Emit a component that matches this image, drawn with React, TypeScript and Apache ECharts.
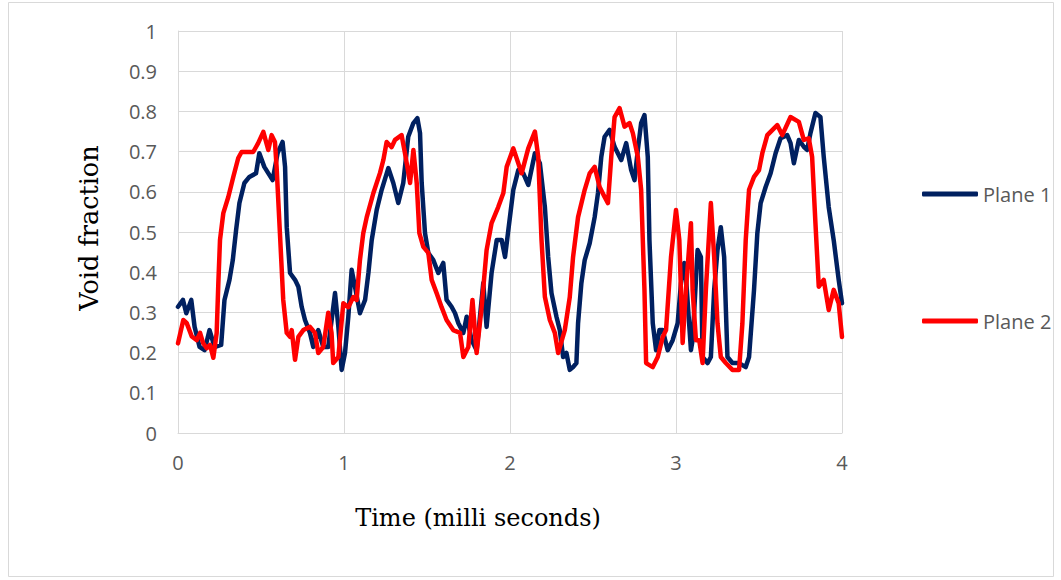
import React, { useEffect, useRef } from "react";
import * as echarts from "echarts";

const xTicks = [0, 1, 2, 3, 4];
const yTicks = [0, 0.1, 0.2, 0.3, 0.4, 0.5, 0.6, 0.7, 0.8, 0.9, 1];
const seriesNames = ["Plane 1", "Plane 2"];
const xTitle = "Time (milli seconds)";
const yTitle = "Void fraction";

// [time (ms), void fraction]
const plane1: number[][] = [
  [0, 0.314], [0.03, 0.331], [0.05, 0.298], [0.08, 0.331], [0.1, 0.264], [0.13, 0.214], [0.16, 0.206],
  [0.19, 0.256], [0.22, 0.214], [0.26, 0.219], [0.28, 0.331], [0.31, 0.381], [0.33, 0.43], [0.35, 0.505],
  [0.37, 0.572], [0.4, 0.622], [0.43, 0.637], [0.47, 0.646], [0.49, 0.696], [0.52, 0.662], [0.57, 0.629],
  [0.6, 0.696], [0.63, 0.724], [0.645, 0.662], [0.655, 0.512], [0.675, 0.398], [0.705, 0.381], [0.725, 0.364],
  [0.745, 0.314], [0.765, 0.281], [0.795, 0.249], [0.815, 0.214], [0.845, 0.256], [0.875, 0.214], [0.905, 0.214],
  [0.946, 0.348], [0.966, 0.264], [0.986, 0.157], [1.006, 0.199], [1.026, 0.289], [1.046, 0.406], [1.066, 0.364],
  [1.096, 0.298], [1.127, 0.331], [1.147, 0.398], [1.167, 0.48], [1.197, 0.555], [1.227, 0.605], [1.267, 0.659],
  [1.297, 0.622], [1.327, 0.572], [1.357, 0.622], [1.387, 0.737], [1.418, 0.771], [1.442, 0.783], [1.458, 0.746],
  [1.468, 0.622], [1.488, 0.497], [1.508, 0.448], [1.538, 0.43], [1.568, 0.398], [1.598, 0.423], [1.618, 0.331],
  [1.648, 0.314], [1.669, 0.298], [1.689, 0.273], [1.719, 0.249], [1.739, 0.289], [1.769, 0.231], [1.799, 0.206],
  [1.819, 0.289], [1.839, 0.373], [1.859, 0.264], [1.889, 0.398], [1.92, 0.48], [1.95, 0.48], [1.97, 0.438],
  [1.99, 0.505], [2.02, 0.605], [2.05, 0.654], [2.08, 0.646], [2.11, 0.617], [2.15, 0.696], [2.18, 0.671],
  [2.21, 0.563], [2.23, 0.438], [2.25, 0.348], [2.28, 0.289], [2.3, 0.256], [2.32, 0.189], [2.34, 0.199],
  [2.36, 0.157], [2.38, 0.164], [2.4, 0.174], [2.41, 0.273], [2.43, 0.373], [2.45, 0.43], [2.48, 0.472],
  [2.51, 0.537], [2.53, 0.597], [2.55, 0.687], [2.57, 0.737], [2.6, 0.754], [2.63, 0.712], [2.67, 0.679],
  [2.7, 0.721], [2.73, 0.654], [2.75, 0.629], [2.77, 0.704], [2.79, 0.771], [2.81, 0.791], [2.83, 0.687],
  [2.84, 0.48], [2.86, 0.273], [2.88, 0.206], [2.9, 0.256], [2.92, 0.256], [2.95, 0.206], [2.98, 0.231],
  [3.01, 0.273], [3.03, 0.373], [3.05, 0.423], [3.06, 0.389], [3.09, 0.206], [3.1, 0.231], [3.13, 0.455],
  [3.15, 0.438], [3.16, 0.189], [3.19, 0.174], [3.21, 0.189], [3.23, 0.356], [3.25, 0.455], [3.27, 0.512],
  [3.29, 0.438], [3.31, 0.189], [3.34, 0.174], [3.38, 0.174], [3.42, 0.164], [3.44, 0.189], [3.47, 0.356],
  [3.49, 0.497], [3.51, 0.572], [3.54, 0.612], [3.57, 0.646], [3.6, 0.696], [3.63, 0.733], [3.67, 0.741],
  [3.69, 0.721], [3.71, 0.671], [3.74, 0.729], [3.77, 0.712], [3.79, 0.704], [3.81, 0.746], [3.84, 0.796],
  [3.87, 0.786], [3.89, 0.687], [3.92, 0.562], [3.95, 0.48], [3.98, 0.381], [4.0, 0.323],
];

const plane2: number[][] = [
  [0, 0.223], [0.032, 0.281], [0.052, 0.274], [0.083, 0.24], [0.113, 0.231], [0.133, 0.249], [0.151, 0.224],
  [0.173, 0.211], [0.193, 0.219], [0.213, 0.187], [0.233, 0.249], [0.243, 0.373], [0.253, 0.48], [0.273, 0.547],
  [0.303, 0.587], [0.333, 0.637], [0.363, 0.684], [0.383, 0.699], [0.453, 0.699], [0.483, 0.721], [0.514, 0.749],
  [0.544, 0.704], [0.564, 0.741], [0.584, 0.724], [0.594, 0.662], [0.614, 0.497], [0.634, 0.331], [0.655, 0.249],
  [0.675, 0.239], [0.685, 0.256], [0.705, 0.182], [0.725, 0.239], [0.755, 0.256], [0.795, 0.264], [0.825, 0.249],
  [0.845, 0.199], [0.875, 0.214], [0.905, 0.299], [0.925, 0.249], [0.935, 0.174], [0.966, 0.189], [0.996, 0.323],
  [1.026, 0.313], [1.056, 0.338], [1.076, 0.331], [1.096, 0.43], [1.116, 0.497], [1.137, 0.537], [1.177, 0.597],
  [1.217, 0.647], [1.237, 0.679], [1.257, 0.724], [1.287, 0.711], [1.307, 0.729], [1.347, 0.741], [1.367, 0.697],
  [1.398, 0.622], [1.418, 0.704], [1.438, 0.622], [1.454, 0.497], [1.478, 0.463], [1.508, 0.448], [1.528, 0.381],
  [1.558, 0.348], [1.588, 0.313], [1.618, 0.281], [1.658, 0.256], [1.699, 0.249], [1.719, 0.189], [1.749, 0.214],
  [1.774, 0.331], [1.799, 0.199], [1.829, 0.313], [1.859, 0.455], [1.889, 0.522], [1.929, 0.562], [1.96, 0.597],
  [1.98, 0.662], [2.02, 0.708], [2.07, 0.646], [2.11, 0.708], [2.15, 0.75], [2.17, 0.687], [2.19, 0.48],
  [2.21, 0.339], [2.24, 0.281], [2.27, 0.249], [2.29, 0.199], [2.33, 0.256], [2.36, 0.338], [2.38, 0.438],
  [2.41, 0.537], [2.45, 0.605], [2.48, 0.646], [2.51, 0.662], [2.54, 0.612], [2.57, 0.587], [2.59, 0.572],
  [2.61, 0.687], [2.63, 0.786], [2.66, 0.808], [2.69, 0.762], [2.72, 0.771], [2.74, 0.746], [2.77, 0.687],
  [2.79, 0.605], [2.81, 0.356], [2.82, 0.174], [2.86, 0.164], [2.89, 0.189], [2.92, 0.239], [2.94, 0.256],
  [2.97, 0.438], [3.0, 0.555], [3.02, 0.48], [3.04, 0.224], [3.06, 0.356], [3.09, 0.522], [3.1, 0.356],
  [3.12, 0.231], [3.14, 0.231], [3.16, 0.174], [3.18, 0.356], [3.21, 0.572], [3.23, 0.438], [3.25, 0.273],
  [3.27, 0.189], [3.3, 0.174], [3.34, 0.157], [3.38, 0.157], [3.4, 0.273], [3.42, 0.48], [3.44, 0.605],
  [3.47, 0.637], [3.5, 0.654], [3.52, 0.696], [3.55, 0.741], [3.61, 0.766], [3.64, 0.741], [3.69, 0.786],
  [3.74, 0.774], [3.77, 0.729], [3.8, 0.733], [3.82, 0.687], [3.84, 0.522], [3.86, 0.364], [3.89, 0.381],
  [3.92, 0.306], [3.95, 0.356], [3.98, 0.323], [4.0, 0.239],
];

const colors = ["#002060", "#ff0000"];

export default function App() {
  const ref = useRef<HTMLDivElement>(null);
  useEffect(() => {
    if (!ref.current) return;
    const chart = echarts.init(ref.current, null, { renderer: "svg" });
    const labelFont = "'Open Sans', 'Noto Sans', sans-serif";
    const titleFont = "'DejaVu Serif', 'Liberation Serif', serif";
    chart.setOption({
      animation: false,
      backgroundColor: "#ffffff",
      grid: { left: 178, right: 219, top: 31, bottom: 147, containLabel: false },
      graphic: [
        {
          type: "rect",
          shape: { x: 8.5, y: 2.5, width: 1045, height: 574 },
          style: { fill: "none", stroke: "#d9d9d9", lineWidth: 1 },
          silent: true,
        },
        {
          type: "text",
          x: 478,
          y: 518,
          silent: true,
          style: {
            text: xTitle,
            fill: "#000000",
            fontSize: 24,
            fontFamily: titleFont,
            align: "center",
            verticalAlign: "middle",
            textAlign: "center",
            textVerticalAlign: "middle",
          },
        },
        {
          type: "text",
          x: 89,
          y: 228,
          rotation: Math.PI / 2,
          silent: true,
          style: {
            text: yTitle,
            fill: "#000000",
            fontSize: 25.5,
            fontFamily: titleFont,
            align: "center",
            verticalAlign: "middle",
            textAlign: "center",
            textVerticalAlign: "middle",
          },
        },
      ],
      legend: {
        orient: "vertical",
        left: 917,
        top: 179,
        itemGap: 107,
        itemWidth: 56,
        itemHeight: 5,
        icon: "roundRect",
        data: seriesNames,
        textStyle: { color: "#595959", fontSize: 20, fontFamily: labelFont },
      },
      xAxis: {
        type: "value",
        min: xTicks[0],
        max: xTicks[xTicks.length - 1],
        interval: 1,
        axisLine: { show: true, lineStyle: { color: "#d9d9d9", width: 1 } },
        axisTick: { show: false },
        splitLine: { show: true, lineStyle: { color: "#d9d9d9", width: 1 } },
        axisLabel: { color: "#595959", fontSize: 20, fontFamily: labelFont, margin: 19 },
      },
      yAxis: {
        type: "value",
        min: yTicks[0],
        max: yTicks[yTicks.length - 1],
        interval: 0.1,
        axisLine: { show: true, lineStyle: { color: "#d9d9d9", width: 1 } },
        axisTick: { show: false },
        splitLine: { show: true, lineStyle: { color: "#d9d9d9", width: 1 } },
        axisLabel: {
          color: "#595959",
          fontSize: 20,
          fontFamily: labelFont,
          margin: 21,
          formatter: (v: number) => String(Math.round(v * 10) / 10),
        },
      },
      series: [
        {
          name: seriesNames[0],
          type: "line",
          data: plane1,
          showSymbol: false,
          symbol: "none",
          lineStyle: { color: colors[0], width: 4.5, join: "round", cap: "round" },
          itemStyle: { color: colors[0] },
        },
        {
          name: seriesNames[1],
          type: "line",
          data: plane2,
          showSymbol: false,
          symbol: "none",
          lineStyle: { color: colors[1], width: 4.5, join: "round", cap: "round" },
          itemStyle: { color: colors[1] },
        },
      ],
    });
    return () => chart.dispose();
  }, []);
  return (
    <div
      ref={ref}
      style={{ position: "fixed", left: 0, top: 0, width: 1061, height: 580 }}
    />
  );
}
